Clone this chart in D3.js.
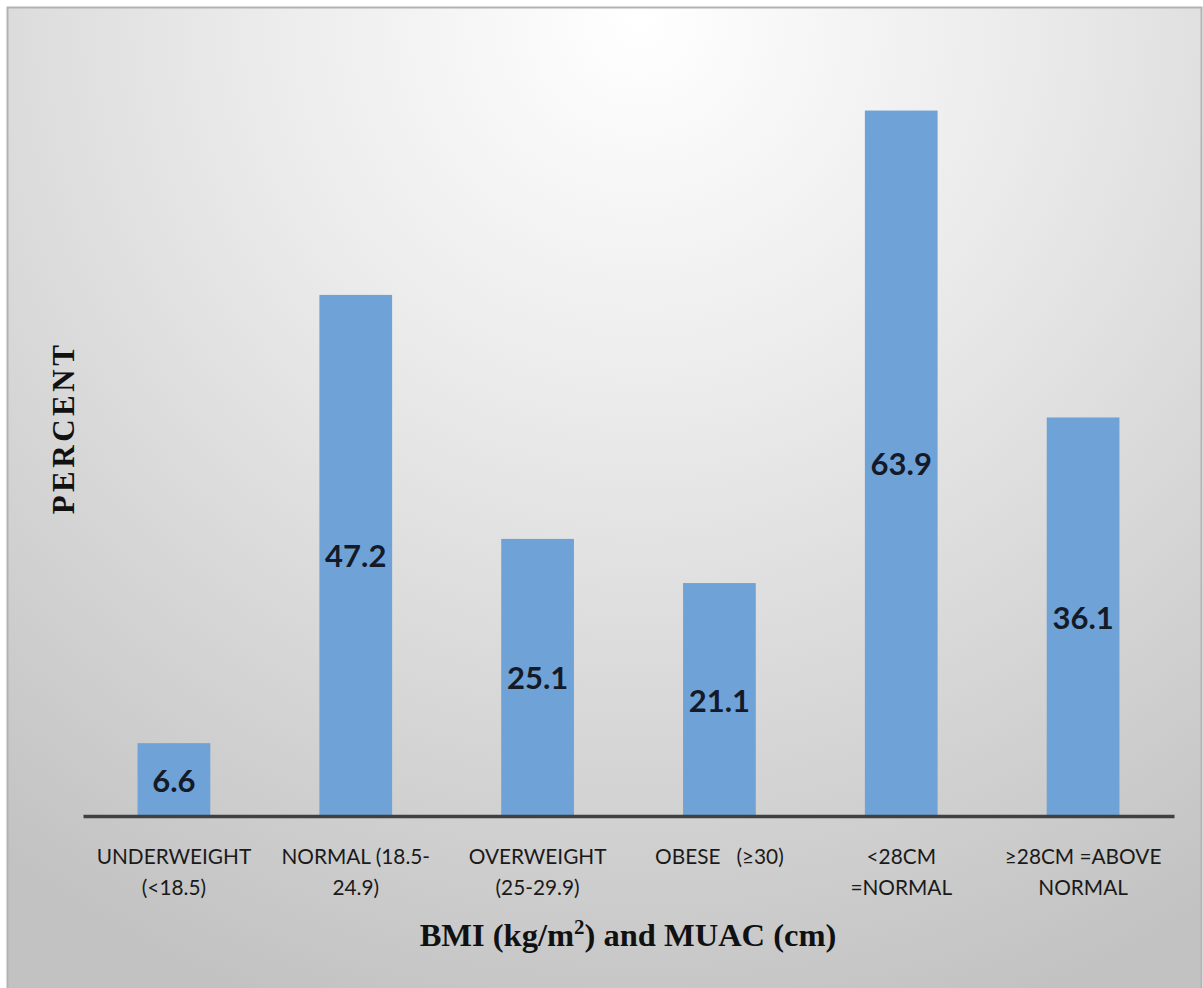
<!DOCTYPE html>
<html>
<head>
<meta charset="utf-8">
<script src="https://cdn.jsdelivr.net/npm/d3@7"></script>
<style>
  html, body { margin: 0; padding: 0; background: #ffffff; }
  svg { display: block; }
</style>
</head>
<body>
<svg id="chart" width="1203" height="988"></svg>
<script>
// Category labels (each entry is the lines of one axis label)
const categories = ["UNDERWEIGHT", "NORMAL", "OVERWEIGHT", "OBESE", "<28CM", ">=28CM"];
const categoryLabels = [
  ["UNDERWEIGHT", "(<18.5)"],
  ["NORMAL (18.5-", "24.9)"],
  ["OVERWEIGHT", "(25-29.9)"],
  ["OBESE\u00a0\u00a0\u00a0(\u226530)"],
  ["<28CM", "=NORMAL"],
  ["\u226528CM =ABOVE", "NORMAL"]
];
// Percent of respondents in each group
const percents = [6.6, 47.2, 25.1, 21.1, 63.9, 36.1];

const svg = d3.select("#chart");
const W = 1203, H = 988;

// Chart panel background: soft radial highlight from the top centre
const defs = svg.append("defs");
const grad = defs.append("radialGradient")
  .attr("id", "panelGrad")
  .attr("gradientUnits", "userSpaceOnUse")
  .attr("cx", 640).attr("cy", 20).attr("r", 1050)
  .attr("fx", 640).attr("fy", 20);
grad.append("stop").attr("offset", "0%").attr("stop-color", "#ffffff");
grad.append("stop").attr("offset", "35%").attr("stop-color", "#ececec");
grad.append("stop").attr("offset", "100%").attr("stop-color", "#c2c2c2");

svg.append("rect")
  .attr("x", 7).attr("y", 7).attr("width", W - 9).attr("height", H - 7)
  .attr("fill", "url(#panelGrad)");
// panel edge lines (top, left, right)
svg.append("path")
  .attr("d", `M7.5,${H} V7.5 H${W - 1.5} V${H}`)
  .attr("fill", "none").attr("stroke", "#b3b3b3").attr("stroke-width", 2);

const baseY = 816;
const x = d3.scaleBand()
  .domain(categories)
  .range([83, 1174])
  .paddingInner(0.6)
  .paddingOuter(0.3);

const y = d3.scaleLinear()
  .domain([0, 70])
  .range([baseY, baseY - 70 * 11.04]);

const data = categories.map((c, i) => ({ c, v: percents[i], lines: categoryLabels[i] }));

// Bars
svg.append("g").selectAll("rect")
  .data(data)
  .join("rect")
  .attr("x", d => x(d.c))
  .attr("y", d => y(d.v))
  .attr("width", x.bandwidth())
  .attr("height", d => y(0) - y(d.v))
  .attr("fill", "#6fa3d7");

// Value labels centred inside each bar
svg.append("g").selectAll("text")
  .data(data)
  .join("text")
  .attr("x", d => x(d.c) + x.bandwidth() / 2)
  .attr("y", d => (y(d.v) + y(0)) / 2)
  .attr("text-anchor", "middle")
  .attr("dominant-baseline", "central")
  .attr("font-family", "Lato, 'Open Sans', sans-serif")
  .attr("font-weight", "bold")
  .attr("font-size", 31)
  .attr("fill", "#151a28")
  .text(d => d.v.toFixed(1));

// Category axis
const xAxis = d3.axisBottom(x).tickSize(0).tickFormat("");
const axisG = svg.append("g")
  .attr("transform", `translate(0,${baseY})`)
  .call(xAxis);
axisG.select(".domain")
  .attr("stroke", "#404040")
  .attr("stroke-width", 3.5);

// Multi-line category labels
const labelG = svg.append("g");
data.forEach(d => {
  const t = labelG.append("text")
    .attr("x", x(d.c) + x.bandwidth() / 2)
    .attr("y", 864)
    .attr("text-anchor", "middle")
    .attr("font-family", "Lato, 'Open Sans', sans-serif")
    .attr("font-size", 20.8)
    .attr("fill", "#1a1a1a");
  d.lines.forEach((ln, k) => {
    t.append("tspan")
      .attr("x", x(d.c) + x.bandwidth() / 2)
      .attr("dy", k === 0 ? 0 : 31)
      .text(ln);
  });
});

// Axis titles
const xt = svg.append("text")
  .attr("x", 628)
  .attr("y", 946)
  .attr("text-anchor", "middle")
  .attr("font-family", "'Liberation Serif', 'Times New Roman', serif")
  .attr("font-weight", "bold")
  .attr("font-size", 32.5)
  .attr("fill", "#111111");
xt.append("tspan").text("BMI (kg/m");
xt.append("tspan").attr("dy", -12).attr("font-size", 21).text("2");
xt.append("tspan").attr("dy", 12).text(") and MUAC (cm)");

svg.append("text")
  .attr("transform", "translate(74,428) rotate(-90)")
  .attr("text-anchor", "middle")
  .attr("font-family", "'Liberation Serif', 'Times New Roman', serif")
  .attr("font-weight", "bold")
  .attr("font-size", 31)
  .attr("letter-spacing", 3.5)
  .attr("fill", "#111111")
  .text("PERCENT");
</script>
</body>
</html>
